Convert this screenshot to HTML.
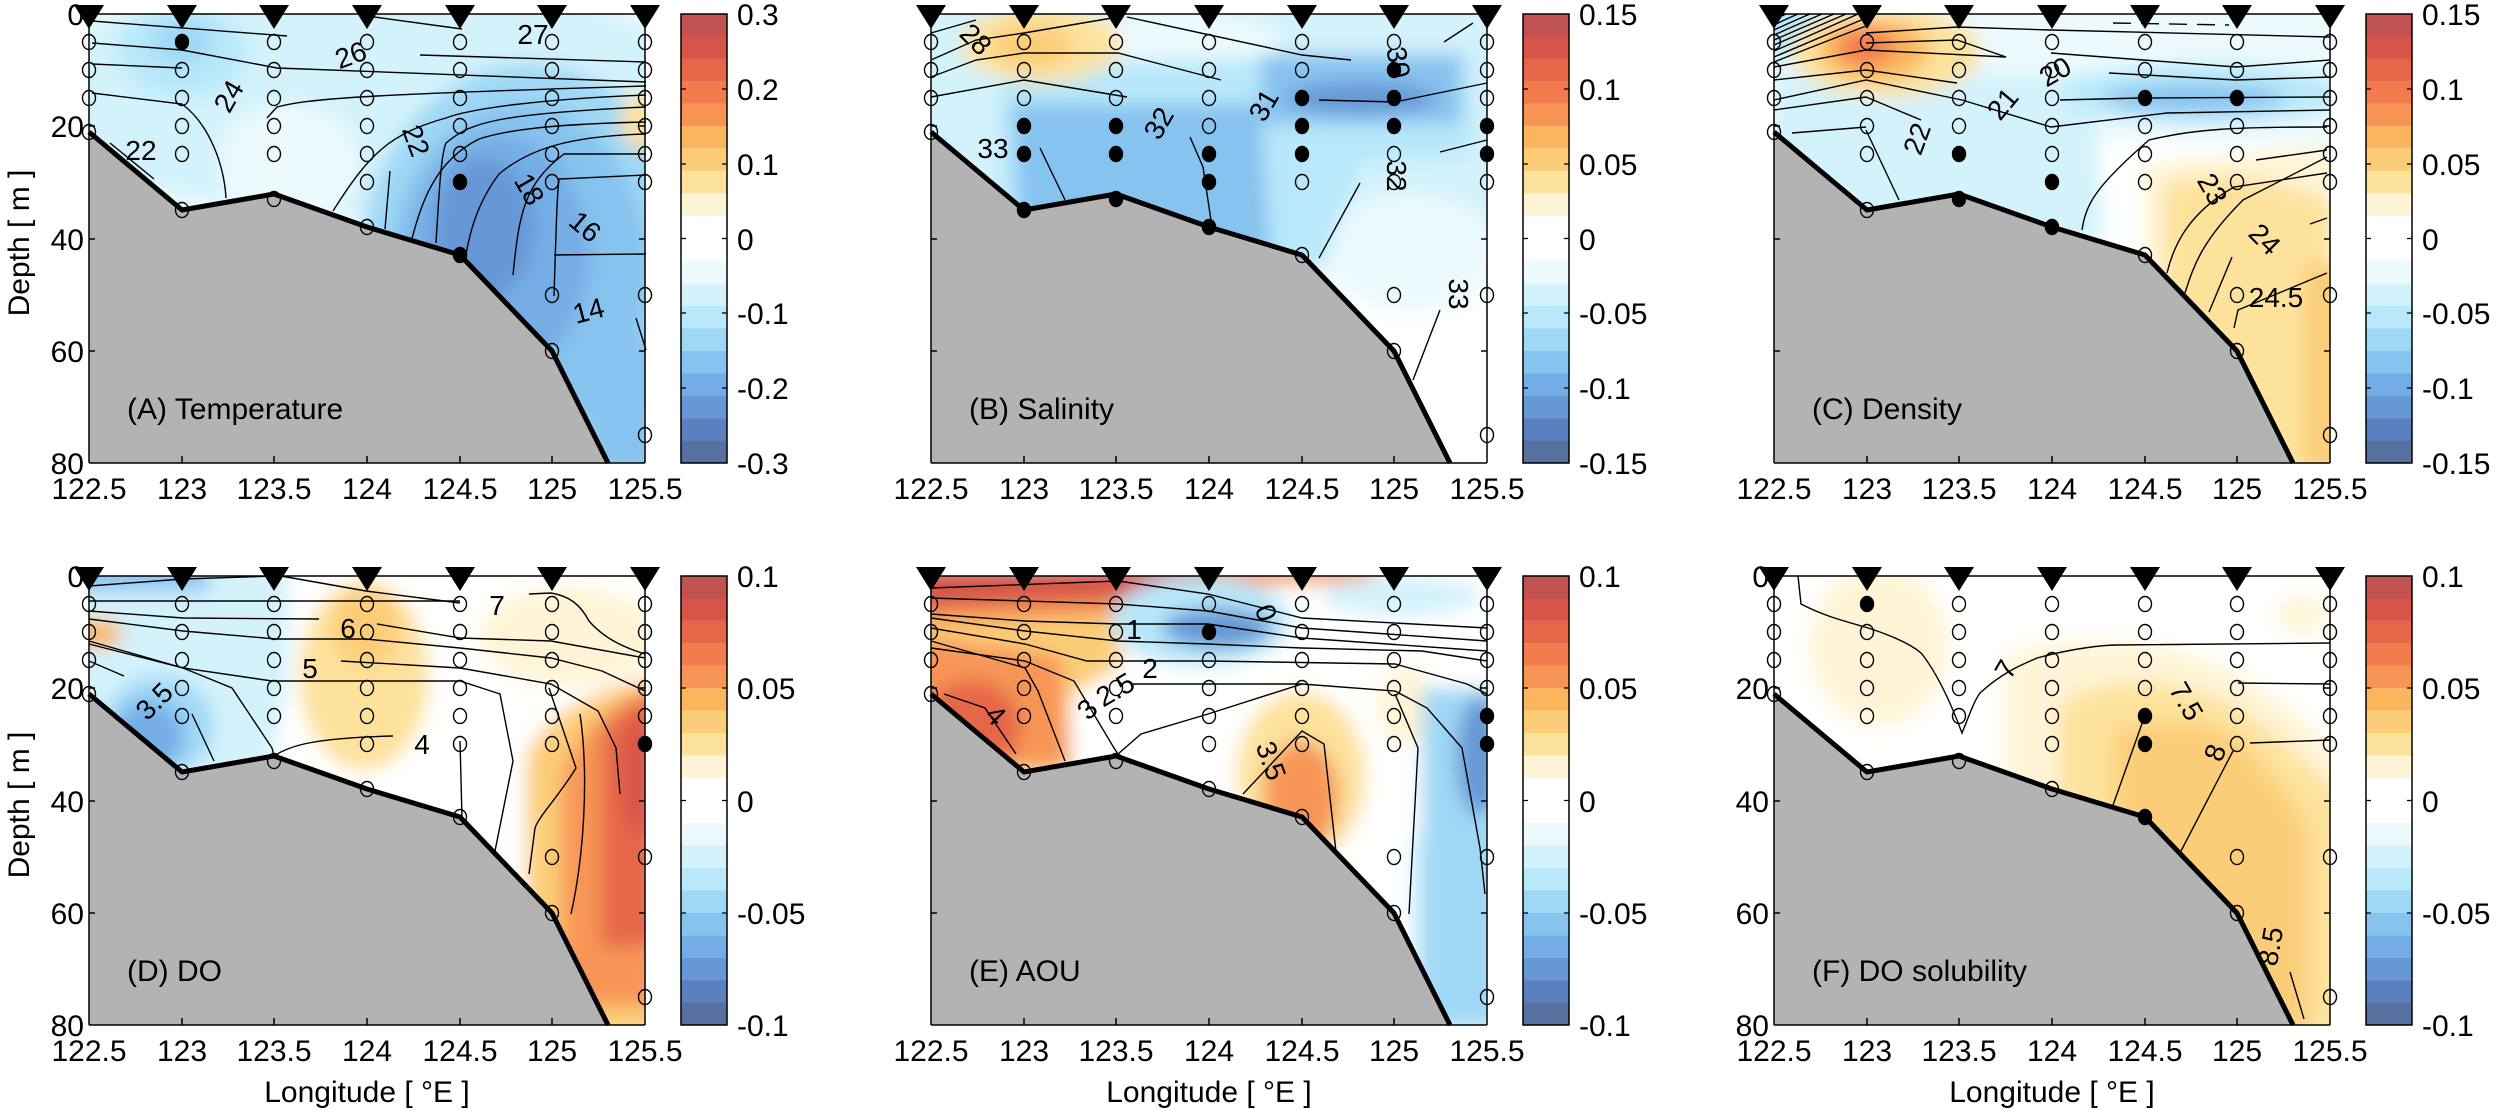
<!DOCTYPE html>
<html><head><meta charset="utf-8"><style>
html,body{margin:0;padding:0;background:#fff;}
svg{display:block;}
text{font-family:"Liberation Sans",Arial,sans-serif;fill:#000;}
.t{font-size:30px;}
.cl{font-size:28px;}
.ax{font-size:30px;}
.c{fill:none;stroke:#000;stroke-width:1.4;}
</style></head><body>
<svg width="2500" height="1110" viewBox="0 0 2500 1110" xmlns="http://www.w3.org/2000/svg">
<defs>
<clipPath id="clip"><rect x="0" y="0" width="556" height="449"/></clipPath>
<filter id="bl" x="-20%" y="-20%" width="140%" height="140%"><feGaussianBlur stdDeviation="9"/></filter>
<g id="gray">
<polygon points="0,118 93,196 185,180 278,213 371,241 463,337 519,449 0,449" fill="#b3b3b3"/>
<polyline points="0,118 93,196 185,180 278,213 371,241 463,337 519,449" fill="none" stroke="#000" stroke-width="5" stroke-linejoin="round"/>
</g>
<g id="frame" fill="none" stroke="#000" stroke-width="1.5">
<line x1="0" y1="0" x2="556" y2="0"/><line x1="556" y1="0" x2="556" y2="449"/>
<line x1="0" y1="0" x2="0" y2="449"/><line x1="0" y1="449" x2="556" y2="449"/>
<path d="M93,449v-7M185,449v-7M278,449v-7M371,449v-7M463,449v-7M0,112h6M0,225h6M0,337h6M556,112h-6M556,225h-6M556,337h-6"/>
</g>
<g id="circ" fill="none" stroke="#000" stroke-width="1.4">
<ellipse cx="0" cy="28" rx="6.5" ry="7.5"/><ellipse cx="0" cy="56" rx="6.5" ry="7.5"/><ellipse cx="0" cy="84" rx="6.5" ry="7.5"/><ellipse cx="0" cy="118" rx="6.5" ry="7.5"/>
<ellipse cx="93" cy="28" rx="6.5" ry="7.5"/><ellipse cx="93" cy="56" rx="6.5" ry="7.5"/><ellipse cx="93" cy="84" rx="6.5" ry="7.5"/><ellipse cx="93" cy="112" rx="6.5" ry="7.5"/><ellipse cx="93" cy="140" rx="6.5" ry="7.5"/><ellipse cx="93" cy="196" rx="6.5" ry="7.5"/>
<ellipse cx="185" cy="28" rx="6.5" ry="7.5"/><ellipse cx="185" cy="56" rx="6.5" ry="7.5"/><ellipse cx="185" cy="84" rx="6.5" ry="7.5"/><ellipse cx="185" cy="112" rx="6.5" ry="7.5"/><ellipse cx="185" cy="140" rx="6.5" ry="7.5"/><ellipse cx="185" cy="185" rx="6.5" ry="7.5"/>
<ellipse cx="278" cy="28" rx="6.5" ry="7.5"/><ellipse cx="278" cy="56" rx="6.5" ry="7.5"/><ellipse cx="278" cy="84" rx="6.5" ry="7.5"/><ellipse cx="278" cy="112" rx="6.5" ry="7.5"/><ellipse cx="278" cy="140" rx="6.5" ry="7.5"/><ellipse cx="278" cy="168" rx="6.5" ry="7.5"/><ellipse cx="278" cy="213" rx="6.5" ry="7.5"/>
<ellipse cx="371" cy="28" rx="6.5" ry="7.5"/><ellipse cx="371" cy="56" rx="6.5" ry="7.5"/><ellipse cx="371" cy="84" rx="6.5" ry="7.5"/><ellipse cx="371" cy="112" rx="6.5" ry="7.5"/><ellipse cx="371" cy="140" rx="6.5" ry="7.5"/><ellipse cx="371" cy="168" rx="6.5" ry="7.5"/><ellipse cx="371" cy="241" rx="6.5" ry="7.5"/>
<ellipse cx="463" cy="28" rx="6.5" ry="7.5"/><ellipse cx="463" cy="56" rx="6.5" ry="7.5"/><ellipse cx="463" cy="84" rx="6.5" ry="7.5"/><ellipse cx="463" cy="112" rx="6.5" ry="7.5"/><ellipse cx="463" cy="140" rx="6.5" ry="7.5"/><ellipse cx="463" cy="168" rx="6.5" ry="7.5"/><ellipse cx="463" cy="281" rx="6.5" ry="7.5"/><ellipse cx="463" cy="337" rx="6.5" ry="7.5"/>
<ellipse cx="556" cy="28" rx="6.5" ry="7.5"/><ellipse cx="556" cy="56" rx="6.5" ry="7.5"/><ellipse cx="556" cy="84" rx="6.5" ry="7.5"/><ellipse cx="556" cy="112" rx="6.5" ry="7.5"/><ellipse cx="556" cy="140" rx="6.5" ry="7.5"/><ellipse cx="556" cy="168" rx="6.5" ry="7.5"/><ellipse cx="556" cy="281" rx="6.5" ry="7.5"/><ellipse cx="556" cy="421" rx="6.5" ry="7.5"/>
</g>
<g id="tri" fill="#000">
<polygon points="-15,-9 15,-9 0,15"/><polygon points="78,-9 108,-9 93,15"/><polygon points="170,-9 200,-9 185,15"/><polygon points="263,-9 293,-9 278,15"/><polygon points="356,-9 386,-9 371,15"/><polygon points="448,-9 478,-9 463,15"/><polygon points="541,-9 571,-9 556,15"/>
</g>
<g id="cb">
<rect x="592" y="0" width="46" height="22.5" fill="#c05252"/><rect x="592" y="22.45" width="46" height="22.5" fill="#d65448"/><rect x="592" y="44.9" width="46" height="22.5" fill="#e6664a"/><rect x="592" y="67.35" width="46" height="22.5" fill="#f37c4f"/><rect x="592" y="89.8" width="46" height="22.5" fill="#f79557"/><rect x="592" y="112.25" width="46" height="22.5" fill="#fbb55c"/><rect x="592" y="134.7" width="46" height="22.5" fill="#fccd78"/><rect x="592" y="157.15" width="46" height="22.5" fill="#fde29c"/><rect x="592" y="179.6" width="46" height="22.5" fill="#fff4d6"/><rect x="592" y="202.05" width="46" height="45" fill="#ffffff"/><rect x="592" y="246.95" width="46" height="22.5" fill="#ecfafe"/><rect x="592" y="269.4" width="46" height="22.5" fill="#d3f2fc"/><rect x="592" y="291.85" width="46" height="22.5" fill="#b8e8fa"/><rect x="592" y="314.3" width="46" height="22.5" fill="#9fd8f5"/><rect x="592" y="336.75" width="46" height="22.5" fill="#87c3ef"/><rect x="592" y="359.2" width="46" height="22.5" fill="#74ade6"/><rect x="592" y="381.65" width="46" height="22.5" fill="#6697d6"/><rect x="592" y="404.1" width="46" height="22.5" fill="#5b80c0"/><rect x="592" y="426.55" width="46" height="22.45" fill="#5670a0"/>
<rect x="592" y="0" width="46" height="449" fill="none" stroke="#000" stroke-width="1.5"/>
</g>
<g id="ytk" class="t" text-anchor="end">
<text x="-5" y="11">0</text><text x="-5" y="123">20</text><text x="-5" y="236">40</text><text x="-5" y="348">60</text><text x="-5" y="460">80</text>
</g>
<g id="xtk" class="t" text-anchor="middle">
<text x="0" y="485">122.5</text><text x="93" y="485">123</text><text x="185" y="485">123.5</text><text x="278" y="485">124</text><text x="371" y="485">124.5</text><text x="463" y="485">125</text><text x="556" y="485">125.5</text>
</g>
<g id="cbt3" class="t"><text x="648" y="11">0.3</text><text x="648" y="86">0.2</text><text x="648" y="161">0.1</text><text x="648" y="236">0</text><text x="648" y="310">-0.1</text><text x="648" y="385">-0.2</text><text x="648" y="460">-0.3</text>
<path d="M592,75h5M592,150h5M592,224.5h5M592,299h5M592,374h5M638,75h-5M638,150h-5M638,224.5h-5M638,299h-5M638,374h-5" stroke="#000" stroke-width="1.3"/></g>
<g id="cbt15" class="t"><text x="648" y="11">0.15</text><text x="648" y="86">0.1</text><text x="648" y="161">0.05</text><text x="648" y="236">0</text><text x="648" y="310">-0.05</text><text x="648" y="385">-0.1</text><text x="648" y="460">-0.15</text>
<path d="M592,75h5M592,150h5M592,224.5h5M592,299h5M592,374h5M638,75h-5M638,150h-5M638,224.5h-5M638,299h-5M638,374h-5" stroke="#000" stroke-width="1.3"/></g>
<g id="cbt1" class="t"><text x="648" y="11">0.1</text><text x="648" y="123">0.05</text><text x="648" y="236">0</text><text x="648" y="348">-0.05</text><text x="648" y="460">-0.1</text>
<path d="M592,112h5M592,224.5h5M592,337h5M638,112h-5M638,224.5h-5M638,337h-5" stroke="#000" stroke-width="1.3"/></g>
</defs>

<text class="ax" transform="translate(29,243) rotate(-90)" text-anchor="middle">Depth  [ m ]</text>
<text class="ax" transform="translate(29,805) rotate(-90)" text-anchor="middle">Depth  [ m ]</text>
<text class="ax" x="367" y="1102" text-anchor="middle">Longitude [ °E ]</text>
<text class="ax" x="1209" y="1102" text-anchor="middle">Longitude [ °E ]</text>
<text class="ax" x="2052" y="1102" text-anchor="middle">Longitude [ °E ]</text>

<!-- ===== A ===== -->
<g transform="translate(89,14)">
<g clip-path="url(#clip)"><g filter="url(#bl)">
<rect x="-20" y="-20" width="600" height="490" fill="#ecfafe"/>
<ellipse cx="278" cy="80" rx="330" ry="120" fill="#d3f2fc"/>
<ellipse cx="200" cy="150" rx="70" ry="60" fill="#ecfafe"/>
<ellipse cx="93" cy="38" rx="65" ry="45" fill="#b8e8fa"/>
<ellipse cx="93" cy="28" rx="30" ry="22" fill="#9fd8f5"/>
<ellipse cx="440" cy="260" rx="170" ry="210" fill="#9fd8f5"/>
<ellipse cx="430" cy="260" rx="130" ry="170" fill="#87c3ef"/>
<ellipse cx="410" cy="240" rx="90" ry="120" fill="#74ade6"/>
<ellipse cx="395" cy="215" rx="50" ry="70" fill="#6697d6"/>
<rect x="500" y="330" width="70" height="130" fill="#87c3ef"/>
<ellipse cx="556" cy="108" rx="25" ry="28" fill="#fde29c"/>
</g></g>
<g class="c">
<path d="M3,7 L198,22"/><path d="M3,29 L93,36 L188,54 L557,68"/><path d="M278,2 L373,15"/><path d="M3,50 L93,54"/>
<path d="M331,41 L557,48"/><path d="M3,79 L93,90 C120,110 135,150 137,184"/><path d="M178,104 L188,93 C220,85 260,81 557,72"/>
<path d="M557,81 C450,85 380,95 357,104 C300,120 280,140 244,197"/><path d="M301,157 L296,215"/>
<path d="M347,229 C350,180 352,140 357,129 C380,110 400,100 557,93"/>
<path d="M424,261 C430,200 435,170 475,140 L557,140"/><path d="M465,282 C467,220 468,180 470,165 L557,161"/>
<path d="M557,108 C470,110 420,115 390,125 C340,150 330,200 320,235"/>
<path d="M557,120 C480,122 440,135 410,160 C380,200 378,240 375,250"/>
<path d="M465,241 L557,240"/><path d="M547,304 L557,336"/><path d="M21,129 L65,165"/>
</g>
<g class="cl" text-anchor="middle">
<text x="444" y="30">27</text><text transform="translate(265,50) rotate(-20)">26</text><text transform="translate(148,87) rotate(-60)">24</text><text x="52" y="146">22</text><text transform="translate(318,130) rotate(70)">22</text><text transform="translate(432,180) rotate(60)">18</text><text transform="translate(490,220) rotate(40)">16</text><text transform="translate(502,306) rotate(-15)">14</text>
</g>
<use href="#gray"/><use href="#frame"/><use href="#ytk"/><use href="#xtk"/>
<use href="#circ"/>
<g fill="#000"><ellipse cx="93" cy="28" rx="7" ry="8"/><ellipse cx="371" cy="168" rx="7" ry="8"/><ellipse cx="371" cy="241" rx="7" ry="8"/></g>
<use href="#tri"/>
<text class="ax" x="38" y="405">(A) Temperature</text>
<use href="#cb"/><use href="#cbt3"/>
</g>

<!-- ===== B ===== -->
<g transform="translate(931,14)">
<g clip-path="url(#clip)"><g filter="url(#bl)">
<rect x="-20" y="-20" width="600" height="490" fill="#ffffff"/>
<rect x="-20" y="-20" width="600" height="250" fill="#d3f2fc"/>
<ellipse cx="240" cy="30" rx="110" ry="35" fill="#ecfafe"/>
<ellipse cx="480" cy="240" rx="90" ry="60" fill="#ecfafe"/>
<path d="M70,50 L540,40 L540,140 L430,150 L390,260 L200,220 L70,210 Z" fill="#b8e8fa"/>
<path d="M80,90 L330,90 L340,250 L200,215 L90,210 Z" fill="#87c3ef"/>
<path d="M330,40 L530,40 L530,110 L330,110 Z" fill="#87c3ef"/>
<ellipse cx="430" cy="84" rx="75" ry="16" fill="#6697d6"/>
<ellipse cx="110" cy="30" rx="80" ry="38" fill="#fde29c"/>
<ellipse cx="100" cy="32" rx="40" ry="22" fill="#fccd78"/>
</g></g>
<g class="c">
<path d="M0,19 L45,6"/><path d="M0,46 L45,26 L93,19 L187,3"/><path d="M0,63 L45,46 L93,39 L187,39 L290,66"/><path d="M0,83 L93,66 L196,83"/>
<path d="M196,3 L371,41 L420,46"/><path d="M388,86 L464,88 L556,69"/><path d="M513,28 L542,9"/><path d="M509,138 L556,126"/>
<path d="M109,134 L134,186"/><path d="M259,123 L272,153 L281,213"/><path d="M388,244 L429,169"/><path d="M482,366 L509,296"/>
</g>
<g class="cl" text-anchor="middle">
<text transform="translate(38,32) rotate(45)">28</text><text transform="translate(458,50) rotate(80)">30</text><text transform="translate(341,96) rotate(-60)">31</text><text transform="translate(236,114) rotate(-60)">32</text><text x="62" y="144">33</text><text transform="translate(456,162) rotate(90)">32</text><text transform="translate(518,280) rotate(90)">33</text>
</g>
<use href="#gray"/><use href="#frame"/><use href="#xtk"/>
<use href="#circ"/>
<g fill="#000"><ellipse cx="93" cy="112" rx="7" ry="8"/><ellipse cx="93" cy="140" rx="7" ry="8"/><ellipse cx="93" cy="196" rx="7" ry="8"/><ellipse cx="185" cy="112" rx="7" ry="8"/><ellipse cx="185" cy="140" rx="7" ry="8"/><ellipse cx="185" cy="185" rx="7" ry="8"/><ellipse cx="278" cy="140" rx="7" ry="8"/><ellipse cx="278" cy="168" rx="7" ry="8"/><ellipse cx="278" cy="213" rx="7" ry="8"/><ellipse cx="371" cy="84" rx="7" ry="8"/><ellipse cx="371" cy="112" rx="7" ry="8"/><ellipse cx="371" cy="140" rx="7" ry="8"/><ellipse cx="463" cy="56" rx="7" ry="8"/><ellipse cx="463" cy="84" rx="7" ry="8"/><ellipse cx="463" cy="112" rx="7" ry="8"/><ellipse cx="556" cy="112" rx="7" ry="8"/><ellipse cx="556" cy="140" rx="7" ry="8"/></g>
<use href="#tri"/>
<text class="ax" x="38" y="405">(B) Salinity</text>
<use href="#cb"/><use href="#cbt15"/>
</g>

<!-- ===== C ===== -->
<g transform="translate(1774,14)">
<g clip-path="url(#clip)"><g filter="url(#bl)">
<rect x="-20" y="-20" width="600" height="490" fill="#ffffff"/>
<rect x="-20" y="-20" width="600" height="150" fill="#ecfafe"/>
<path d="M0,60 L320,60 L330,230 L0,230 Z" fill="#d3f2fc"/>
<ellipse cx="430" cy="80" rx="140" ry="30" fill="#b8e8fa"/>
<ellipse cx="420" cy="84" rx="90" ry="14" fill="#87c3ef"/>
<ellipse cx="15" cy="15" rx="40" ry="30" fill="#b8e8fa"/>
<path d="M370,150 L560,130 L560,460 L370,460 Z" fill="#fff4d6"/>
<path d="M390,170 C450,150 520,170 560,190 L560,460 L390,460 Z" fill="#fde29c"/>
<rect x="530" y="250" width="40" height="210" fill="#fccd78"/>
<ellipse cx="112" cy="38" rx="95" ry="45" fill="#fde29c"/>
<ellipse cx="100" cy="36" rx="55" ry="30" fill="#fbb55c"/>
<ellipse cx="92" cy="33" rx="28" ry="18" fill="#f37c4f"/>
</g></g>
<g class="c">
<path d="M12,0 Q5,3 0,6"/><path d="M24,0 Q10,6 0,11"/><path d="M36,0 Q15,9 0,16"/><path d="M48,0 Q20,12 0,21"/><path d="M60,0 Q25,15 0,26"/><path d="M72,0 Q30,18 0,31"/><path d="M84,0 Q35,22 0,37"/><path d="M92,4 Q40,26 0,43"/><path d="M92,12 Q45,30 0,48"/>
<path d="M0,53 L92,36 L232,43"/><path d="M0,66 L92,56 L183,69"/><path d="M0,86 L92,66 L188,86 L277,113 L393,99 L556,96"/><path d="M0,96 L92,83 L147,106"/><path d="M18,119 L92,113"/><path d="M92,116 L125,186"/>
<path d="M92,19 L183,13 L277,16 L556,23"/><path d="M92,29 L183,26 L232,43"/><path d="M286,86 L366,84 L556,83"/><path d="M335,59 L462,66 L556,63"/><path d="M277,39 L462,53 L556,46"/><path d="M339,9 L455,11" stroke-dasharray="18,10"/>
<path d="M308,216 C312,190 321,173 375,126 C420,115 460,113 553,113"/><path d="M393,259 C400,230 415,199 460,173 L553,159"/><path d="M411,279 C420,250 429,226 469,186 L553,143"/><path d="M435,298 L458,243"/><path d="M460,314 L464,296 L553,259"/><path d="M482,146 L553,136"/><path d="M536,210 L553,204"/>
</g>
<g class="cl" text-anchor="middle">
<text transform="translate(286,66) rotate(-30)">20</text><text transform="translate(236,96) rotate(-50)">21</text><text transform="translate(152,128) rotate(-70)">22</text><text transform="translate(430,180) rotate(60)">23</text><text transform="translate(484,232) rotate(45)">24</text><text x="502" y="293">24.5</text>
</g>
<use href="#gray"/><use href="#frame"/><use href="#xtk"/>
<use href="#circ"/>
<g fill="#000"><ellipse cx="185" cy="140" rx="7" ry="8"/><ellipse cx="185" cy="185" rx="7" ry="8"/><ellipse cx="278" cy="168" rx="7" ry="8"/><ellipse cx="278" cy="213" rx="7" ry="8"/><ellipse cx="371" cy="84" rx="7" ry="8"/><ellipse cx="463" cy="84" rx="7" ry="8"/></g>
<use href="#tri"/>
<text class="ax" x="38" y="405">(C) Density</text>
<use href="#cb"/><use href="#cbt15"/>
</g>

<!-- ===== D ===== -->
<g transform="translate(89,576)">
<g clip-path="url(#clip)"><g filter="url(#bl)">
<rect x="-20" y="-20" width="600" height="490" fill="#ffffff"/>
<path d="M-20,-20 L200,-20 L200,100 L180,200 L-20,200 Z" fill="#d3f2fc"/>
<rect x="-20" y="-10" width="140" height="25" fill="#87c3ef"/>
<ellipse cx="70" cy="150" rx="55" ry="50" fill="#9fd8f5"/>
<ellipse cx="60" cy="160" rx="35" ry="35" fill="#74ade6"/>
<ellipse cx="0" cy="58" rx="35" ry="15" fill="#fbb55c"/>
<ellipse cx="275" cy="100" rx="65" ry="95" fill="#fde29c"/>
<ellipse cx="277" cy="50" rx="35" ry="40" fill="#fccd78"/>
<ellipse cx="480" cy="60" rx="90" ry="50" fill="#fff4d6"/>
<path d="M437,180 C460,130 520,110 570,100 L570,460 L437,460 Z" fill="#fccd78"/>
<path d="M473,200 C490,150 530,120 570,110 L570,430 L473,430 Z" fill="#f79557"/>
<path d="M513,160 C530,130 550,125 570,120 L570,370 L513,370 Z" fill="#e6664a"/>
<ellipse cx="552" cy="200" rx="18" ry="60" fill="#d65448"/>
</g></g>
<g class="c">
<path d="M0,10 L94,3 L187,0"/><path d="M0,25 L187,25 L371,25"/><path d="M192,0 L277,15 L371,27"/><path d="M440,18 L462,17 C480,20 491,28 500,45 C513,60 530,70 556,78"/>
<path d="M0,35 L94,42 L230,43"/><path d="M0,43 L94,55 L187,63 L277,63"/><path d="M288,48 L371,62 L462,65 L556,82"/><path d="M277,63 L371,72 L462,82 L513,95 L556,115"/>
<path d="M252,85 L371,92 L462,108 L509,135 L527,172 L531,218"/><path d="M0,68 L94,92 L183,105 L371,105 L411,118 L424,185 L406,275"/>
<path d="M0,85 L35,100"/><path d="M0,65 L94,92 L143,112 L183,172 L185,180"/><path d="M103,138 L125,185"/><path d="M185,180 C200,170 223,162 304,160"/><path d="M371,165 L373,242"/>
<path d="M460,112 L487,192 C470,220 450,240 446,252 L440,298"/><path d="M491,138 C500,200 495,280 482,338"/>
</g>
<g class="cl" text-anchor="middle">
<text x="408" y="39">7</text><text x="259" y="62">6</text><text x="221" y="102">5</text><text transform="translate(72,132) rotate(-45)">3.5</text><text x="333" y="178">4</text>
</g>
<use href="#gray"/><use href="#frame"/><use href="#ytk"/><use href="#xtk"/>
<use href="#circ"/>
<g fill="#000"><ellipse cx="556" cy="168" rx="7" ry="8"/></g>
<use href="#tri"/>
<text class="ax" x="38" y="405">(D) DO</text>
<use href="#cb"/><use href="#cbt1"/>
</g>

<!-- ===== E ===== -->
<g transform="translate(931,576)">
<g clip-path="url(#clip)"><g filter="url(#bl)">
<rect x="-20" y="-20" width="600" height="490" fill="#ffffff"/>
<path d="M-20,40 L190,40 L190,90 L140,120 L140,200 L-20,200 Z" fill="#fccd78"/>
<path d="M-20,60 L130,80 L140,190 L-20,190 Z" fill="#f79557"/>
<ellipse cx="40" cy="150" rx="50" ry="45" fill="#e6664a"/>
<path d="M-20,-10 L446,-10 L446,6 L300,10 L190,40 L-20,48 Z" fill="#f79557"/>
<path d="M-20,-10 L300,-10 L190,22 L-20,32 Z" fill="#d65448"/>
<ellipse cx="270" cy="45" rx="90" ry="45" fill="#b8e8fa"/>
<ellipse cx="286" cy="52" rx="55" ry="20" fill="#6697d6"/>
<ellipse cx="370" cy="200" rx="65" ry="85" fill="#fde29c"/>
<ellipse cx="370" cy="220" rx="38" ry="55" fill="#f79557"/>
<ellipse cx="475" cy="130" rx="30" ry="40" fill="#fff4d6"/>
<rect x="480" y="260" width="90" height="200" fill="#d3f2fc"/>
<path d="M491,112 L570,112 L570,449 L491,449 Z" fill="#9fd8f5"/>
<ellipse cx="548" cy="180" rx="22" ry="60" fill="#6697d6"/>
<ellipse cx="470" cy="20" rx="80" ry="20" fill="#d3f2fc"/>
</g></g>
<g class="c">
<path d="M0,12 L187,5 L277,18 L371,42 L556,52"/><path d="M0,22 L187,28 L277,35 L371,52 L556,65"/><path d="M0,38 L94,45 L187,48 L277,48 L371,62 L556,75"/>
<path d="M0,42 L94,55 L187,65 L277,68 L371,72 L491,75 L556,85"/><path d="M0,52 L94,68 L156,85 L277,85 L464,88 L536,108 L556,118"/>
<path d="M0,72 L94,85 L143,105 L183,172 L187,178"/><path d="M201,108 L371,108 L464,115 L496,132 L531,172 L549,272 L554,318"/>
<path d="M187,178 L210,158 L277,138 L371,108"/><path d="M0,65 L94,92 L107,115 L134,185"/><path d="M464,118 L487,172 L478,338"/>
<path d="M312,218 L371,155 L393,168 L406,285"/><path d="M13,118 L54,132 L85,178"/>
</g>
<g class="cl" text-anchor="middle">
<text transform="translate(326,40) rotate(70)">0</text><text x="203" y="63">1</text><text x="219" y="102">2</text><text transform="translate(189,122) rotate(-30)">2.5</text><text transform="translate(163,140) rotate(-45)">3</text><text transform="translate(58,146) rotate(45)">4</text><text transform="translate(331,188) rotate(70)">3.5</text>
</g>
<use href="#gray"/><use href="#frame"/><use href="#xtk"/>
<use href="#circ"/>
<g fill="#000"><ellipse cx="278" cy="56" rx="7" ry="8"/><ellipse cx="556" cy="140" rx="7" ry="8"/><ellipse cx="556" cy="168" rx="7" ry="8"/></g>
<use href="#tri"/>
<text class="ax" x="38" y="405">(E) AOU</text>
<use href="#cb"/><use href="#cbt1"/>
</g>

<!-- ===== F ===== -->
<g transform="translate(1774,576)">
<g clip-path="url(#clip)"><g filter="url(#bl)">
<rect x="-20" y="-20" width="600" height="490" fill="#ffffff"/>
<ellipse cx="105" cy="70" rx="70" ry="80" fill="#fff4d6"/>
<ellipse cx="528" cy="39" rx="25" ry="20" fill="#fff4d6"/>
<path d="M230,80 C300,50 420,60 500,120 C540,150 560,170 570,180 L570,460 L230,460 Z" fill="#fff4d6"/>
<path d="M286,130 C320,100 400,100 460,130 C510,160 540,200 570,220 L570,460 L286,460 Z" fill="#fde29c"/>
<path d="M340,160 C360,140 440,140 470,170 C500,200 520,230 533,250 L533,460 L340,460 Z" fill="#fccd78"/>
</g></g>
<g class="c">
<path d="M24,0 L27,28 C50,40 70,45 91,51 C120,60 140,70 148,78 C165,100 178,130 188,157 C195,140 200,125 206,117 C230,95 250,88 263,82 C300,72 330,69 344,69 L556,67"/>
<path d="M464,107 L556,108"/><path d="M476,167 L556,164"/><path d="M370,142 L338,232"/><path d="M459,175 L407,275"/><path d="M516,396 L530,443"/>
</g>
<g class="cl" text-anchor="middle">
<text transform="translate(240,98) rotate(-60)">7</text><text transform="translate(404,130) rotate(60)">7.5</text><text transform="translate(450,180) rotate(-70)">8</text><text transform="translate(506,372) rotate(-80)">8.5</text>
</g>
<use href="#gray"/><use href="#frame"/><use href="#ytk"/><use href="#xtk"/>
<use href="#circ"/>
<g fill="#000"><ellipse cx="93" cy="28" rx="7" ry="8"/><ellipse cx="371" cy="140" rx="7" ry="8"/><ellipse cx="371" cy="168" rx="7" ry="8"/><ellipse cx="371" cy="241" rx="7" ry="8"/></g>
<use href="#tri"/>
<text class="ax" x="38" y="405">(F) DO solubility</text>
<use href="#cb"/><use href="#cbt1"/>
</g>
</svg>
</body></html>
